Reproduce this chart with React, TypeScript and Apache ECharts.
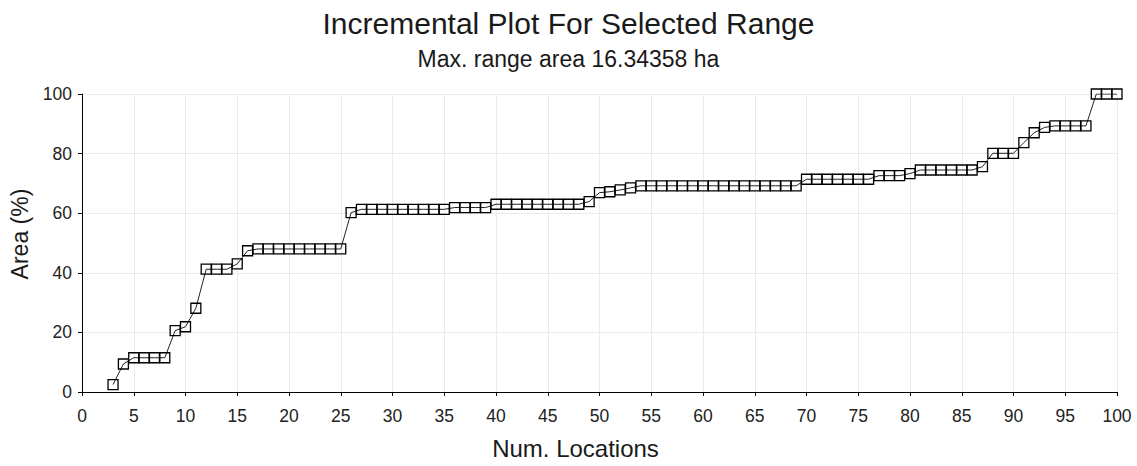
import React, { useEffect, useRef } from "react";
import * as echarts from "echarts";

const titleText = "Incremental Plot For Selected Range";
const subtitleText = "Max. range area 16.34358 ha";
const xName = "Num. Locations";
const yName = "Area (%)";

const locations = [
  3, 4, 5, 6, 7, 8, 9, 10, 11, 12, 13, 14, 15, 16, 17, 18, 19, 20, 21, 22, 23, 24, 25,
  26, 27, 28, 29, 30, 31, 32, 33, 34, 35, 36, 37, 38, 39, 40, 41, 42, 43, 44, 45, 46, 47, 48,
  49, 50, 51, 52, 53, 54, 55, 56, 57, 58, 59, 60, 61, 62, 63, 64, 65, 66, 67, 68, 69,
  70, 71, 72, 73, 74, 75, 76, 77, 78, 79, 80, 81, 82, 83, 84, 85, 86, 87, 88, 89, 90,
  91, 92, 93, 94, 95, 96, 97, 98, 99, 100,
];

const areaPct = [
  2.5, 9.4, 11.5, 11.5, 11.5, 11.5, 20.6, 21.9, 28.1, 41.2, 41.2, 41.2, 43.0, 47.4,
  48.0, 48.0, 48.0, 48.0, 48.0, 48.0, 48.0, 48.0, 48.0,
  60.2, 61.3, 61.3, 61.3, 61.3, 61.3, 61.3, 61.3, 61.3, 61.3, 61.9, 61.9, 61.9, 61.9,
  63.0, 63.0, 63.0, 63.0, 63.0, 63.0, 63.0, 63.0, 63.0,
  63.9, 66.9, 67.2, 67.8, 68.5, 69.2, 69.2, 69.2, 69.2, 69.2, 69.2, 69.2, 69.2, 69.2,
  69.2, 69.2, 69.2, 69.2, 69.2, 69.2, 69.2,
  71.4, 71.4, 71.4, 71.4, 71.4, 71.4, 71.4, 72.6, 72.6, 72.6, 73.3,
  74.5, 74.5, 74.5, 74.5, 74.5, 74.5, 75.6, 80.1, 80.1, 80.1,
  83.7, 87.0, 88.8, 89.3, 89.3, 89.3, 89.3, 100, 100, 100,
];

export default function App() {
  const ref = useRef<HTMLDivElement>(null);
  useEffect(() => {
    if (!ref.current) return;
    const chart = echarts.init(ref.current, null, { renderer: "svg" });
    const font = "Liberation Sans, Arial, sans-serif";
    chart.setOption({
      animation: false,
      backgroundColor: "#fff",
      title: [
        {
          text: titleText,
          left: "center",
          top: 8,
          padding: [0, 0, 0, 12],
          textStyle: { fontFamily: font, fontSize: 30, fontWeight: "normal", color: "#1a1a1a" },
        },
        {
          text: subtitleText,
          left: "center",
          top: 47,
          padding: [0, 0, 0, 16],
          textStyle: { fontFamily: font, fontSize: 23, fontWeight: "normal", color: "#1a1a1a" },
        },
      ],
      grid: { left: 82, right: 20, top: 94, bottom: 74 },
      xAxis: {
        type: "value",
        min: 0,
        max: 100,
        interval: 5,
        name: xName,
        nameLocation: "middle",
        nameGap: 44,
        nameTextStyle: { fontFamily: font, fontSize: 24, color: "#1a1a1a", padding: [0, 48, 0, 0] },
        axisLine: { show: true, lineStyle: { color: "#000", width: 1 } },
        axisTick: { show: true, length: 4, lineStyle: { color: "#000" } },
        axisLabel: { fontFamily: font, fontSize: 17.5, color: "#222", margin: 15 },
        splitLine: { show: true, lineStyle: { color: "#ebebeb", width: 1 } },
      },
      yAxis: {
        type: "value",
        min: 0,
        max: 100,
        interval: 20,
        name: yName,
        nameLocation: "middle",
        nameGap: 48,
        nameTextStyle: { fontFamily: font, fontSize: 23, color: "#1a1a1a", padding: [0, 0, 0, 18] },
        axisLine: { show: true, lineStyle: { color: "#000", width: 1 } },
        axisTick: { show: true, length: 4, lineStyle: { color: "#000" } },
        axisLabel: { fontFamily: font, fontSize: 17.5, color: "#222", margin: 10 },
        splitLine: { show: true, lineStyle: { color: "#ebebeb", width: 1 } },
      },
      series: [
        {
          type: "line",
          data: locations.map((x, i) => [x, areaPct[i]]),
          symbol: "rect",
          symbolSize: 10,
          showAllSymbol: true,
          lineStyle: { color: "#222", width: 1 },
          itemStyle: { color: "rgba(255,255,255,0)", borderColor: "#000", borderWidth: 1.3 },
        },
      ],
    });
    return () => chart.dispose();
  }, []);
  return (
    <div
      ref={ref}
      style={{ position: "absolute", left: 0, top: 0, width: 1137, height: 466 }}
    />
  );
}
